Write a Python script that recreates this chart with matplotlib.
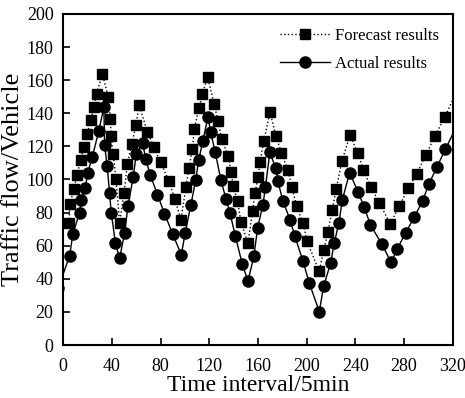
import numpy as np
import matplotlib
matplotlib.use("Agg")
import matplotlib.pyplot as plt

plt.rcParams["font.family"] = ["Liberation Serif", "DejaVu Serif"]

# forecast results (squares, dotted)
fc_x = [4.7, 5.5, 8.8, 11.5, 14.3, 17.0, 19.7, 22.5, 25.2, 27.4, 32.2, 37.0, 38.8, 39.2,
        41.1, 43.3, 46.4, 49.9, 52.8, 56.4, 59.7, 62.4, 69.2, 74.5, 80.0, 86.8, 91.5,
        96.7, 100.8, 103.3, 106.2, 107.6, 111.5, 114.4, 118.7, 123.8, 127.3, 130.1,
        135.6, 137.8, 139.7, 143.3, 146.0, 151.8, 155.6, 157.5, 160.2, 161.6, 164.9,
        169.9, 174.8, 179.3, 184.6, 187.9, 191.8, 197.2, 200.2, 210.3, 214.0, 217.5,
        221.0, 224.3, 229.0, 235.6, 242.1, 246.7, 252.8, 259.6, 268.7, 276.1, 283.5,
        290.4, 297.9, 305.4, 313.6, 325.0]
fc_y = [73.9, 85.5, 94.2, 103.0, 111.8, 119.6, 127.6, 135.8, 143.6, 151.9, 163.6, 149.9,
        136.7, 126.2, 115.5, 100.0, 73.8, 91.9, 109.5, 121.6, 132.7, 144.8, 128.7, 119.4,
        110.3, 99.0, 88.5, 75.8, 95.2, 107.1, 118.5, 130.3, 142.9, 151.9, 162.1, 145.9,
        135.3, 124.5, 114.1, 104.8, 95.9, 86.8, 74.5, 61.6, 80.8, 92.1, 101.4, 110.3,
        123.5, 140.8, 126.2, 116.1, 105.5, 95.2, 83.8, 73.5, 63.0, 44.5, 57.3, 68.1,
        81.6, 94.4, 111.1, 126.7, 115.9, 105.6, 95.5, 86.1, 73.2, 83.9, 94.7, 103.5,
        114.7, 126.2, 137.8, 156.0]

# actual results (circles, solid)
ac_x = [-4.0, 5.2, 8.0, 13.4, 14.7, 18.1, 20.1, 23.8, 29.1, 33.4, 34.0, 36.1, 38.1, 39.4,
        42.9, 46.3, 50.4, 53.2, 57.5, 60.0, 65.3, 67.8, 71.5, 77.4, 83.2, 90.0, 97.0,
        100.2, 104.9, 108.9, 111.3, 114.8, 118.9, 121.1, 124.9, 129.6, 133.7, 137.0,
        141.5, 147.1, 151.8, 156.7, 159.7, 164.1, 166.1, 169.8, 174.6, 176.4, 180.5,
        186.3, 190.4, 197.0, 202.1, 210.4, 214.0, 219.7, 222.7, 226.5, 229.4, 235.3,
        242.4, 247.1, 252.4, 261.9, 269.5, 274.6, 281.4, 288.4, 295.3, 300.3, 307.1,
        314.1, 325.0]
ac_y = [34.5, 53.9, 67.3, 79.8, 87.6, 95.0, 104.2, 113.3, 129.1, 143.5, 120.6, 108.1,
        91.6, 80.0, 61.6, 52.4, 67.6, 83.9, 101.6, 115.2, 122.0, 112.1, 102.8, 90.9,
        79.4, 67.0, 54.5, 67.6, 84.8, 99.8, 111.9, 123.5, 137.8, 128.7, 116.4, 99.6,
        88.3, 79.8, 65.6, 49.0, 38.6, 53.8, 70.7, 84.8, 95.2, 116.4, 106.7, 98.8, 87.1,
        75.8, 65.6, 50.7, 37.6, 20.2, 35.6, 49.5, 61.6, 73.9, 87.9, 104.1, 92.3, 83.6,
        72.7, 60.8, 49.9, 58.3, 67.9, 77.3, 87.1, 97.0, 107.6, 118.4, 135.0]

x_ticks = np.arange(0, 321, 40)
y_ticks = np.arange(0, 201, 20)

fig = plt.figure(figsize=(4.65, 3.98), dpi=100)
ax = fig.add_axes([0.136, 0.133, 0.8375, 0.832])

ax.plot(fc_x, fc_y, ls=":", lw=1.0, color="black", marker="s", ms=7.5,
        label="Forecast results")
ax.plot(ac_x, ac_y, ls="-", lw=1.0, color="black", marker="o", ms=8,
        label="Actual results")

ax.set_xlim(0, 320)
ax.set_ylim(0, 200)
ax.set_xticks(x_ticks)
ax.set_yticks(y_ticks)
ax.tick_params(direction="in", length=5, width=1.2, labelsize=13,
               top=False, right=False)
ax.tick_params(axis="y", pad=7)
ax.tick_params(axis="x", pad=9)
for s in ax.spines.values():
    s.set_linewidth(1.5)

ax.set_xlabel("Time interval/5min", fontsize=17, labelpad=0)
ax.set_ylabel("Traffic flow/Vehicle", fontsize=19, labelpad=2)

ax.legend(loc="upper right", frameon=False, fontsize=12, numpoints=1,
          handlelength=3.0, handletextpad=0.3, labelspacing=0.7,
          borderaxespad=0.45)

fig.savefig("out.png", dpi=100)
